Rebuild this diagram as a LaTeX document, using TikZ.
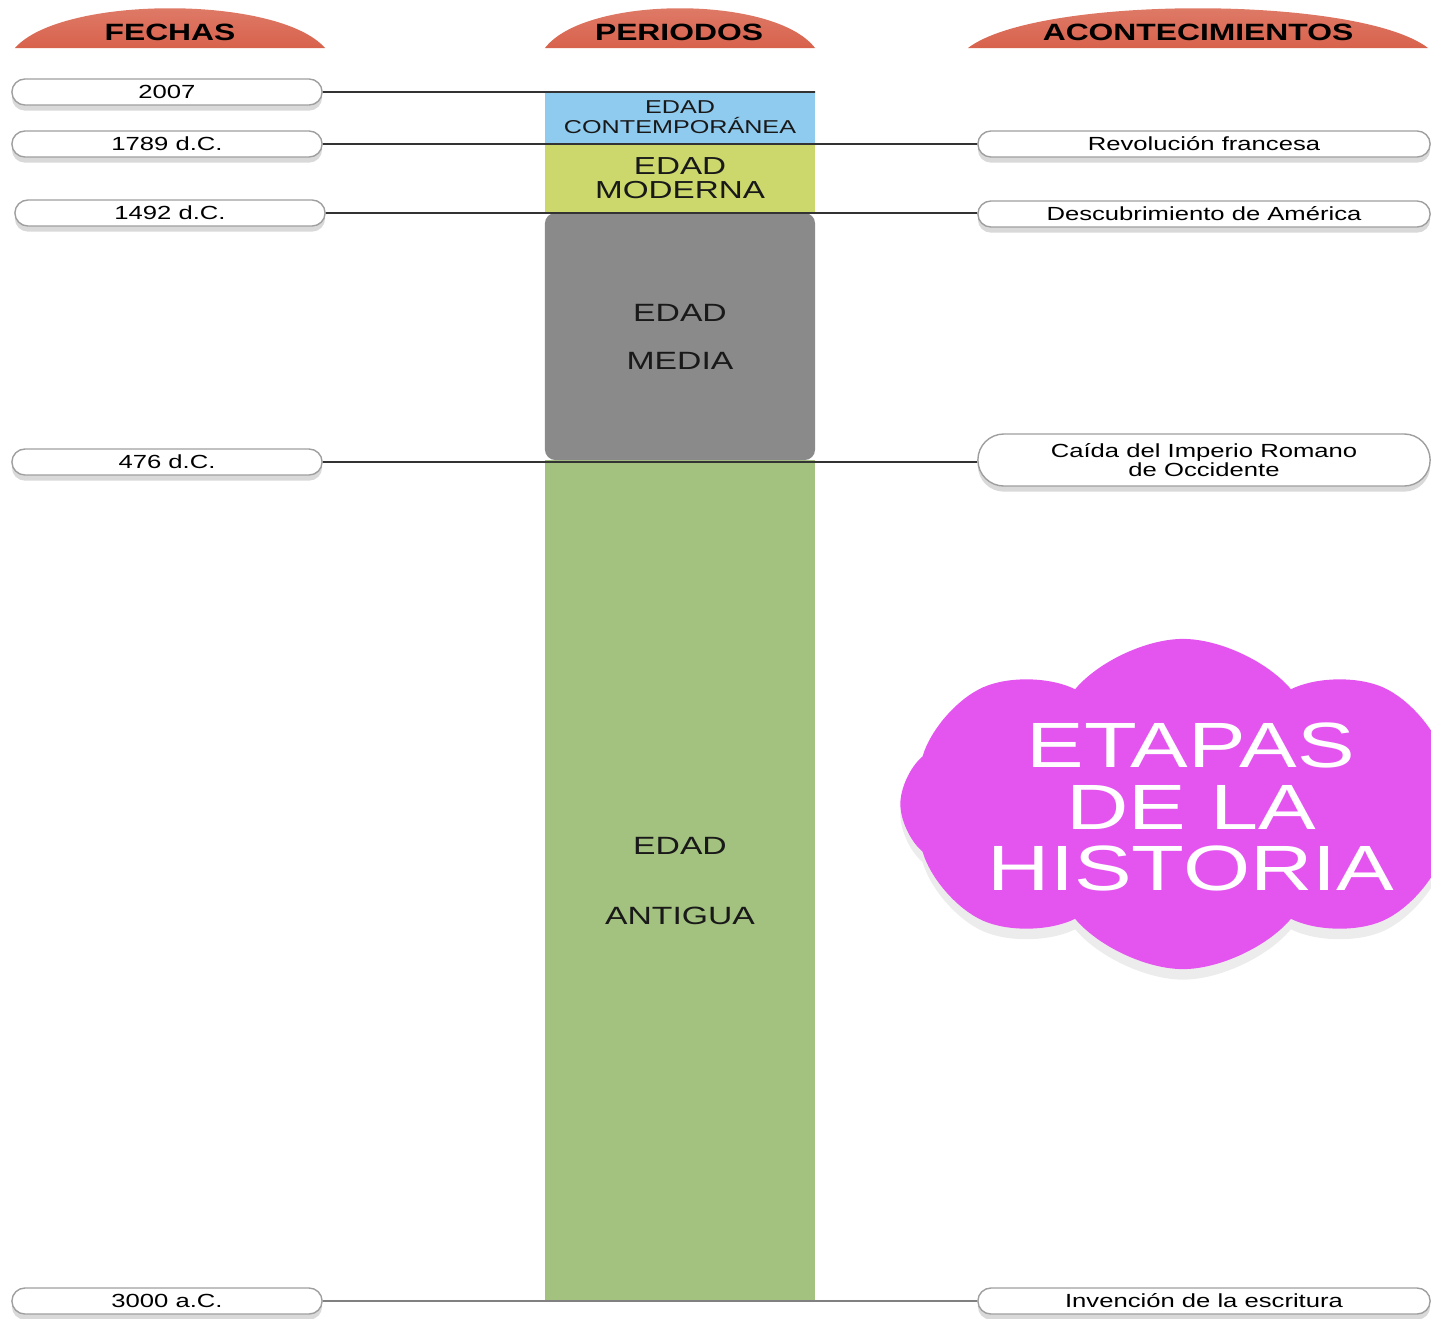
\documentclass[tikz,border=0pt]{standalone}
\usepackage{fontspec}
\setmainfont{Liberation Sans}[FakeStretch=1.35]
\usetikzlibrary{shapes.misc,shapes.symbols,shadows}

\definecolor{domered}{HTML}{D8624C}
\definecolor{contblue}{HTML}{8FCBEF}
\definecolor{modyellow}{HTML}{CCD86C}
\definecolor{midgray}{HTML}{8A8A8A}
\definecolor{antgreen}{HTML}{A3C27F}
\definecolor{cloudpink}{HTML}{E455F0}

\tikzset{
  pill/.style={draw=gray!75, fill=white, rounded rectangle, minimum height=0.26cm,
    inner sep=0pt, font=\fontsize{5.4}{6}\selectfont,
    drop shadow={shadow xshift=0pt, shadow yshift=-1.6pt, opacity=.3}},
  header/.style={font=\bfseries\fontsize{6.7}{8}\selectfont},
  period/.style={inner sep=0pt, minimum width=2.7cm, align=center, text=black!90},
  link/.style={black!80, line width=0.45pt}
}

\begin{document}
\begin{tikzpicture}[x=0.01cm, y=-0.01cm]
\useasboundingbox (0,0) rectangle (1431,1318);

\def\dome#1#2{(#1-#2,48) .. controls (#1-0.7*#2,-5) and (#1+0.7*#2,-5) .. (#1+#2,48) -- cycle}

% cabeceras
\begin{scope}[drop shadow={shadow xshift=0pt, shadow yshift=-2pt, opacity=.25}]
\shade[top color=domered!80!white, bottom color=domered] \dome{170}{155};
\shade[top color=domered!80!white, bottom color=domered] \dome{680}{135};
\shade[top color=domered!80!white, bottom color=domered] \dome{1198}{230};
\end{scope}
\node[header] (fechas) at (170,32) {FECHAS};
\node[header] (periodos) at (679,32) {PERIODOS};
\node[header] (aconte) at (1198,32) {ACONTECIMIENTOS};

% periodos
\node[period, fill=antgreen, minimum height=8.42cm,
  font=\fontsize{7.1}{20}\selectfont] (antigua) at (680,881) {EDAD\\ANTIGUA};
\node[period, fill=midgray, rounded corners=3pt, minimum height=2.47cm,
  font=\fontsize{7.1}{13.7}\selectfont] (media) at (680,336.5) {EDAD\\MEDIA};
\node[period, fill=modyellow, minimum height=0.70cm,
  font=\fontsize{7}{6.9}\selectfont] (moderna) at (680,178) {EDAD\\MODERNA};
\node[period, fill=contblue, minimum height=0.51cm,
  font=\fontsize{5.3}{5.7}\selectfont] (contemp) at (680,117.5) {EDAD\\CONTEMPOR\'ANEA};

% fechas
\node[pill, minimum width=3.1cm] (d2007) at (167,92) {2007};
\node[pill, minimum width=3.1cm] (d1789) at (167,144) {1789 d.C.};
\node[pill, minimum width=3.1cm] (d1492) at (170,213) {1492 d.C.};
\node[pill, minimum width=3.1cm] (d476) at (167,462) {476 d.C.};
\node[pill, minimum width=3.1cm] (d3000) at (167,1301) {3000 a.C.};

% acontecimientos
\node[pill, minimum width=4.52cm] (e1789) at (1204,144) {Revoluci\'on francesa};
\node[pill, minimum width=4.52cm] (e1492) at (1204,214) {Descubrimiento de Am\'erica};
\node[pill, minimum width=4.52cm, minimum height=0.52cm, align=center,
  font=\fontsize{5.4}{5.2}\selectfont] (e476) at (1204,460) {Ca\'ida del Imperio Romano\\de Occidente};
\node[pill, minimum width=4.52cm] (e3000) at (1204,1301) {Invenci\'on de la escritura};

\coordinate (topend) at (815,92);
\draw[link] (d2007) -- (topend);
\draw[link] (d1789) -- (e1789);
\draw[link] (d1492) -- (d1492 -| e1492.west);
\draw[link] (d476) -- (d476 -| e476.west);
\draw[link, gray] (d3000) -- (e3000);

% nube
\node[cloud, cloud puffs=8, cloud puff arc=100, aspect=1.7, shape border rotate=22.5,
  fill=cloudpink, minimum width=5.65cm, minimum height=3.3cm, inner sep=0pt,
  drop shadow={shadow xshift=0pt, shadow yshift=-3pt, opacity=.15}]
  (nube) at (1183,804) {};
\node[text=white, align=center, font=\fontsize{18.2}{17.6}\selectfont]
  (titulo) at (1191,807) {ETAPAS\\DE LA\\HISTORIA};

\end{tikzpicture}
\end{document}
